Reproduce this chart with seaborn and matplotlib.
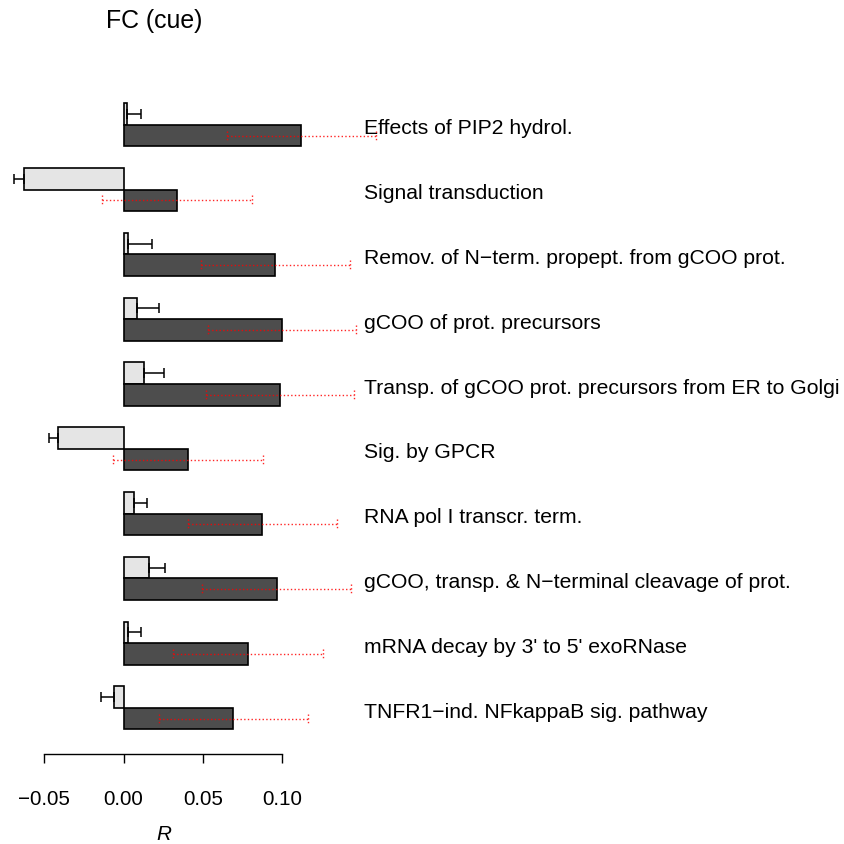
import numpy as np
import pandas as pd
import matplotlib
matplotlib.use("Agg")
import matplotlib.pyplot as plt
import seaborn as sns

# Pathways, top to bottom
pathways = [
    "Effects of PIP2 hydrol.",
    "Signal transduction",
    "Remov. of N\u2212term. propept. from gCOO prot.",
    "gCOO of prot. precursors",
    "Transp. of gCOO prot. precursors from ER to Golgi",
    "Sig. by GPCR",
    "RNA pol I transcr. term.",
    "gCOO, transp. & N\u2212terminal cleavage of prot.",
    "mRNA decay by 3' to 5' exoRNase",
    "TNFR1\u2212ind. NFkappaB sig. pathway",
]

# Correlation with the cue (light bars) and its standard error
cue_r = [0.0020, -0.0625, 0.0030, 0.0085, 0.0129, -0.0411, 0.0068, 0.0163, 0.0028, -0.0060]
cue_se = [0.0090, 0.0065, 0.0148, 0.0139, 0.0126, 0.0060, 0.0078, 0.0099, 0.0084, 0.0084]

# Pathway scores (dark bars) and their spread
path_r = [0.1121, 0.0337, 0.0957, 0.0999, 0.0986, 0.0405, 0.0875, 0.0966, 0.0783, 0.0692]
path_sd = [0.0468, 0.0473, 0.0471, 0.0469, 0.0467, 0.0474, 0.0471, 0.0470, 0.0473, 0.0470]

x_ticks = [-0.05, 0.00, 0.05, 0.10]

plt.rcParams["font.family"] = ["Liberation Sans", "DejaVu Sans"]

df = pd.DataFrame({
    "pathway": pathways * 2,
    "series": ["cue"] * len(pathways) + ["path"] * len(pathways),
    "R": cue_r + path_r,
})

W = H = 844
fig = plt.figure(figsize=(W / 100, H / 100), dpi=100)
ax = fig.add_axes([0, 0, 1, 1])

sns.barplot(data=df, y="pathway", x="R", hue="series", orient="h",
            order=pathways, hue_order=["cue", "path"],
            palette=["#e5e5e5", "#4d4d4d"], width=2 / 3, gap=0,
            edgecolor="black", linewidth=1.2, errorbar=None,
            legend=False, ax=ax)

# pixel-based layout of the plotting region
zero_px, px_per_unit = 123.5, 1586.7
ax.set_xlim(-zero_px / px_per_unit, (W - zero_px) / px_per_unit)
grp0_px, grp_step = 124.7, 64.8
ax.set_ylim((H - grp0_px) / grp_step, -grp0_px / grp_step)

# bar centres taken from the drawn bars
cue_y = np.array([b.get_y() + b.get_height() / 2 for b in ax.containers[0]])
path_y = np.array([b.get_y() + b.get_height() / 2 for b in ax.containers[1]])

cr = np.array(cue_r)
cs = np.array(cue_se)
lower = np.where(cr < 0, cs, 0)
upper = np.where(cr >= 0, cs, 0)
ax.errorbar(cr, cue_y, xerr=[lower, upper], fmt="none", ecolor="black",
            elinewidth=1.1, capsize=3.3, capthick=1.1, zorder=4)

# dotted red spread around the pathway scores
pr = np.array(path_r)
ps = np.array(path_sd)
red = (1, 0, 0, 0.85)
ax.hlines(path_y, pr - ps, pr + ps, colors=[red], linestyles=":", linewidth=1.0, zorder=5)
cap_h = 5 / grp_step
ax.vlines(np.concatenate([pr - ps, pr + ps]), np.concatenate([path_y, path_y]) - cap_h,
          np.concatenate([path_y, path_y]) + cap_h, colors=[red], linestyles=":",
          linewidth=1.0, zorder=5)

# pathway names to the right of the bars
label_x = (364 - zero_px) / px_per_unit
for i, name in enumerate(pathways):
    grp_y = (cue_y[i] + path_y[i]) / 2
    ax.text(label_x, grp_y + 9.8 / grp_step, name, ha="left", va="baseline",
            fontsize=15.2, color="black")

# axes decoration
for side in ["left", "top", "right"]:
    ax.spines[side].set_visible(False)
ax.set_yticks([])
ax.set_ylabel("")
ax.set_xlabel("")
ax.spines["bottom"].set_position(("data", (754 - grp0_px) / grp_step))
ax.spines["bottom"].set_bounds(x_ticks[0], x_ticks[-1])
ax.spines["bottom"].set_linewidth(1.0)
ax.set_xticks(x_ticks)
ax.set_xticklabels([f"{t:.2f}".replace("-", "\u2212") for t in x_ticks])
ax.tick_params(axis="x", direction="out", length=6.6, width=1.0,
               pad=19, labelsize=14.9, colors="black")

fig.text(164 / W, 1 - 840 / H, "R", ha="center", va="baseline",
         fontsize=14.9, style="italic")
fig.text(106 / W, 1 - 28 / H, "FC (cue)", ha="left", va="baseline",
         fontsize=17.9)

fig.savefig("out.png", dpi=100, facecolor="white")
